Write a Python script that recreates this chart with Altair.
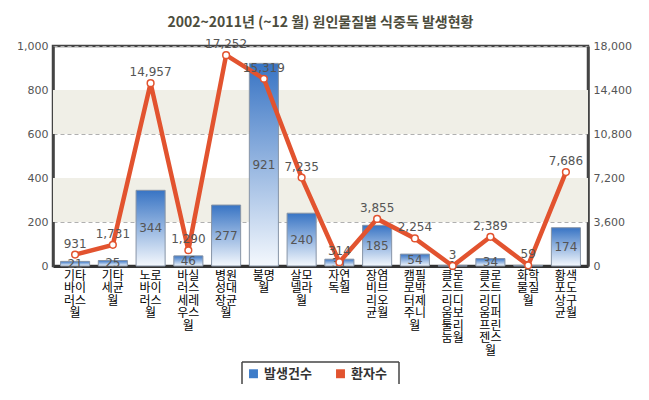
import altair as alt
import pandas as pd

categories = ["기타바이러스월", "기타세균월", "노로바이러스월", "바실러스세레우스월",
              "병원성대장균월", "불명월", "살모넬라월", "자연독월", "장염비브리오균월",
              "캠필로박터제주니월", "클로스트리디움보툴리눔월", "클로스트리디움퍼프린젠스월",
              "화학물질월", "황색포도상구균월"]
incidents = [21, 25, 344, 46, 277, 921, 240, 31, 185, 54, 1, 34, 2, 174]
patients = [931, 1731, 14957, 1290, 17252, 15319, 7235, 314, 3855, 2254, 3, 2389, 59, 7686]
left_ticks = [0, 200, 400, 600, 800, 1000]
right_ticks = [0, 3600, 7200, 10800, 14400, 18000]
band_lo = [200, 600]
band_hi = [400, 800]
legend_series = ["발생건수", "환자수"]
legend_colors = ["#3d7cc9", "#e2532f"]

df = pd.DataFrame({"cat": categories, "n": incidents, "p": patients})
bands_df = pd.DataFrame({"lo": band_lo, "hi": band_hi})
leg_df = pd.DataFrame({"s": legend_series})
one_df = pd.DataFrame({"s": legend_series[:1]})

RED = "#e2532f"
label_expr = "[" + ",".join(f"substring(datum.label,{i},{i+2})" for i in range(0, 14, 2)) + "]"

x = alt.X("cat:N", sort=categories,
          scale=alt.Scale(paddingInner=0.23, paddingOuter=0.2),
          axis=alt.Axis(title=None, labelAngle=0, labelExpr=label_expr, labelBaseline="top",
                        labelAlign="center", labelFont="Noto Sans CJK KR", labelFontSize=12,
                        labelLineHeight=12.5, labelColor="#000", labelPadding=4, ticks=False,
                        domainColor="#333", domainWidth=3, labelOverlap=False, labelBound=False))

left_axis = alt.Axis(values=left_ticks, format=",d", title=None, grid=True, gridDash=[4, 3],
                     gridColor="#b0b0b0", tickSize=0, labelPadding=5, labelFont="DejaVu Sans",
                     labelFontSize=11, labelColor="#555", domainColor="#444", domainWidth=2.5)
left_scale = alt.Scale(domain=[0, 1000])

right_axis = alt.Axis(orient="right", values=right_ticks, format=",d", title=None, grid=False,
                      tickSize=0, labelPadding=5, labelFont="DejaVu Sans", labelFontSize=11,
                      labelColor="#555", domainColor="#444", domainWidth=2.5)
right_scale = alt.Scale(domain=[0, 18000])

bands = alt.Chart(bands_df).mark_rect(color="#f0efe7").encode(
    y=alt.Y("lo:Q", scale=left_scale, axis=left_axis), y2="hi:Q")

grad = alt.Gradient(gradient="linear",
                    stops=[alt.GradientStop(color="#3874c4", offset=0),
                           alt.GradientStop(color="#f4f8fd", offset=1)],
                    x1=0, x2=0, y1=0, y2=1)

bars = alt.Chart(df).mark_bar(color=grad, stroke="#8794a6", strokeWidth=1).encode(
    x=x, y=alt.Y("n:Q", scale=left_scale, axis=left_axis))

bar_text = alt.Chart(df).transform_calculate(mid="datum.n/2").mark_text(
    baseline="middle", font="DejaVu Sans", fontSize=12, color="#555").encode(
    x=x, y=alt.Y("mid:Q", scale=left_scale, axis=left_axis), text="n:Q")

left = alt.layer(bands, bars, bar_text)

line = alt.Chart(df).mark_line(color=RED, strokeWidth=4.5).encode(
    x=x, y=alt.Y("p:Q", scale=right_scale, axis=right_axis))
pts = alt.Chart(df).mark_point(filled=True, fill="white", stroke=RED, strokeWidth=1.5,
                               size=45, opacity=1).encode(
    x=x, y=alt.Y("p:Q", scale=right_scale, axis=right_axis))
line_text = alt.Chart(df).mark_text(dy=-11, font="DejaVu Sans", fontSize=12, color="#555").encode(
    x=x, y=alt.Y("p:Q", scale=right_scale, axis=right_axis),
    text=alt.Text("p:Q", format=",d"))

right = alt.layer(line, pts, line_text)

leg = alt.Chart(leg_df).mark_square(size=0).encode(
    color=alt.Color("s:N", scale=alt.Scale(domain=legend_series, range=legend_colors),
                    legend=alt.Legend(title=None, orient="none", legendX=189, legendY=316,
                                      direction="horizontal", symbolType="square",
                                      symbolSize=80, symbolOpacity=1, symbolStrokeWidth=0,
                                      labelFont="Noto Sans CJK KR", labelFontSize=13,
                                      labelFontWeight="bold", labelColor="#333",
                                      padding=5, columnPadding=22)))

# frame around the legend (decoration), drawn as four rules
def frame_rule(**enc):
    return alt.Chart(one_df).mark_rule(color="#444", strokeWidth=1.5).encode(**enc)

frame = alt.layer(
    frame_rule(x=alt.value(189), x2=alt.value(346), y=alt.value(316)),
    frame_rule(x=alt.value(189), x2=alt.value(346), y=alt.value(339)),
    frame_rule(x=alt.value(189), y=alt.value(316), y2=alt.value(339)),
    frame_rule(x=alt.value(346), y=alt.value(316), y2=alt.value(339)),
)

chart = alt.layer(left, right, leg, frame).resolve_scale(y="independent").properties(
    width=535, height=220, autosize="none",
    padding={"left": 45, "top": 38, "right": 50, "bottom": 118},
    title=alt.Title("2002~2011년 (~12 월) 원인물질별 식중독 발생현황",
                    font="Noto Sans CJK KR", fontSize=14, fontWeight="bold",
                    color="#4d4d3d", anchor="middle", offset=8),
).configure_view(stroke="#444", strokeWidth=2.5)

chart.save("out.html", embed_options={"renderer": "svg", "actions": False})
